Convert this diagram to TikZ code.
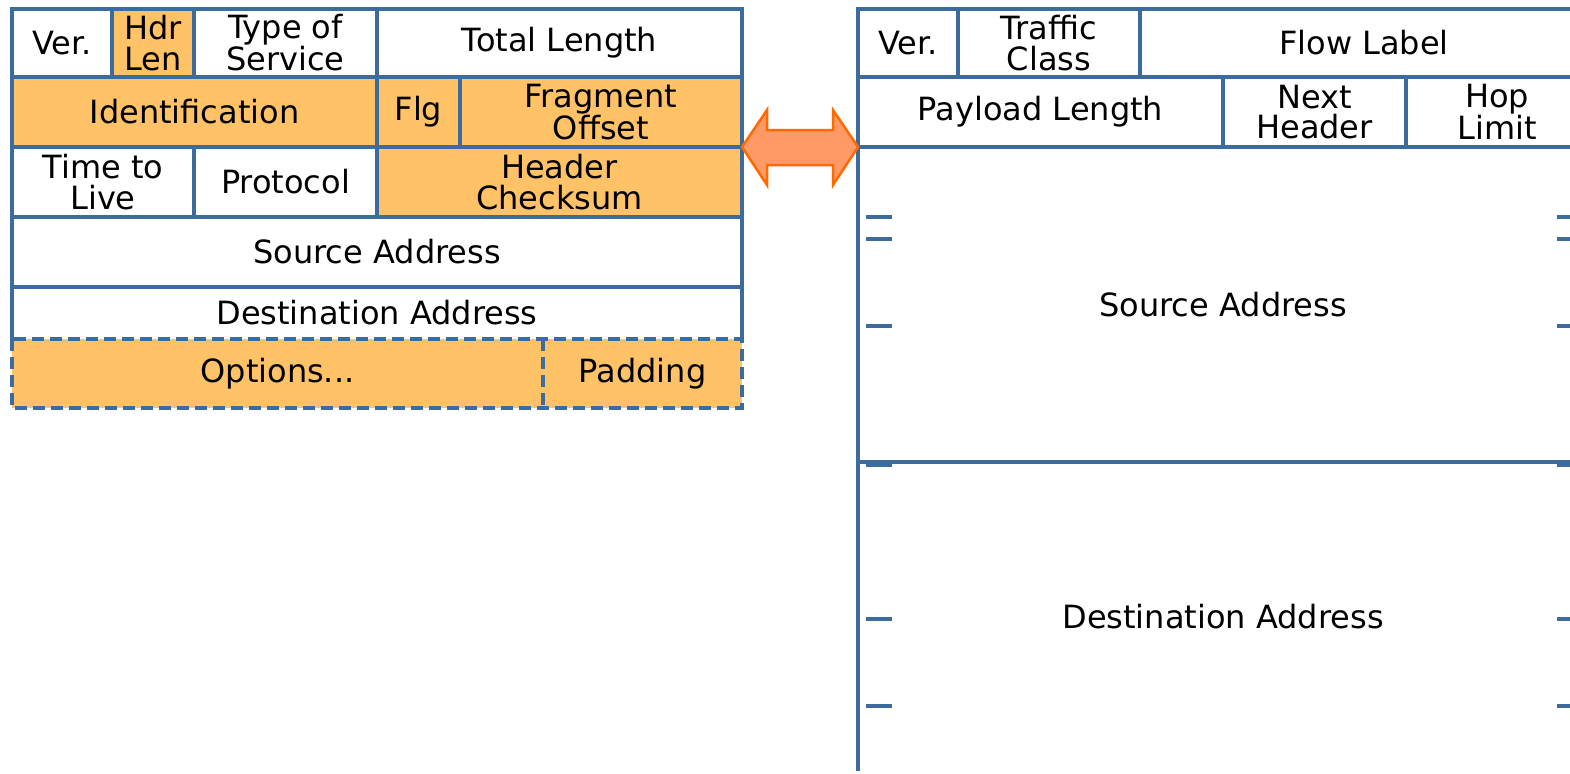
\documentclass[tikz,border=0pt]{standalone}
\usepackage{fontspec}
\setmainfont{DejaVu Sans}
\definecolor{gridblue}{HTML}{3C6B9E}
\definecolor{fieldorange}{HTML}{FFC266}
\definecolor{arrowfill}{HTML}{FF9966}
\definecolor{arrowline}{HTML}{FF6A00}
% one header field: name, x1, y1, x2, y2 (top-left / bottom-right), extra style, label
\newcommand\hdrcell[7]{%
  \node[cell,#6,minimum width={(#4-#2)*1pt},minimum height={(#5-#3)*1pt}] (#1) at (#2,#3) {#7};}
\begin{document}
\begin{tikzpicture}[x=1pt,y=-1pt,
  cell/.style={draw=gridblue, line width=3.5pt, inner sep=0pt, outer sep=0pt,
    anchor=north west, align=center, font=\fontsize{32}{30.5}\selectfont, text=black},
  hl/.style={fill=fieldorange},
  open/.style={draw=none},
  gridline/.style={draw=gridblue, line width=3.5pt},
  optline/.style={gridline, dash pattern=on 12pt off 6pt},
  tickmark/.style={draw=gridblue, line width=3.5pt},
  swap/.style={draw=arrowline, fill=arrowfill, line width=2.5pt, line join=miter}]
\clip (0,0) rectangle (1570,773);
\fill[white] (0,0) rectangle (1570,773);

% IPv4 header
\hdrcell{vver}{12}{9}{112}{77}{}{Ver.}
\hdrcell{vhl}{112}{9}{194}{77}{hl}{Hdr\\Len}
\hdrcell{vtos}{194}{9}{377}{77}{}{Type of\\Service}
\hdrcell{vlen}{377}{9}{742}{77}{}{Total Length}
\hdrcell{vid}{12}{77}{377}{147}{hl}{Identification}
\hdrcell{vflg}{377}{77}{460}{147}{hl}{Flg}
\hdrcell{vfrag}{460}{77}{742}{147}{hl}{Fragment\\Offset}
\hdrcell{vttl}{12}{147}{194}{217}{}{Time to\\Live}
\hdrcell{vproto}{194}{147}{377}{217}{}{Protocol}
\hdrcell{vsum}{377}{147}{742}{217}{hl}{Header\\Checksum}
\hdrcell{vsrc}{12}{217}{742}{287}{}{Source Address}
\hdrcell{vdst}{12}{287}{742}{339}{open}{Destination Address}
\draw[gridline] (vdst.south west) -- (vdst.north west) -- (vdst.north east) -- (vdst.south east);
\hdrcell{vopt}{12}{339}{543}{408}{hl,open}{Options...}
\hdrcell{vpad}{543}{339}{742}{408}{hl,open}{Padding}
\draw[optline] (vopt.north west) rectangle (vpad.south east);
\draw[optline] (vpad.north west) -- (vpad.south west);

% IPv6 header
\hdrcell{sver}{858}{9}{958}{77}{}{Ver.}
\hdrcell{stc}{958}{9}{1140}{77}{}{Traffic\\Class}
\hdrcell{sfl}{1140}{9}{1588}{77}{}{Flow Label}
\hdrcell{spl}{858}{77}{1223}{147}{}{Payload Length}
\hdrcell{snh}{1223}{77}{1406}{147}{}{Next\\Header}
\hdrcell{shl}{1406}{77}{1588}{147}{}{Hop\\Limit}
\hdrcell{ssrc}{858}{147}{1588}{462}{}{Source Address}
\hdrcell{sdst}{858}{462}{1588}{771}{open}{Destination Address}
\draw[gridline] (sdst.south west) -- (sdst.north west) -- (sdst.north east) -- (sdst.south east);

% 32-bit word marks along the address fields
\foreach \ty in {217,239,326,465,619,706}{
  \draw[tickmark] (866,\ty) -- (892,\ty);
  \draw[tickmark] (1582,\ty) -- (1557,\ty);
}

% double arrow between the two headers
\coordinate (aL) at (vfrag.south east);
\coordinate (aR) at (spl.south west);
\draw[swap] (aL) -- (767,110) -- (767,130) -- (833,130) -- (833,110) -- (aR)
  -- (833,185) -- (833,165) -- (767,165) -- (767,185) -- cycle;
\end{tikzpicture}
\end{document}
